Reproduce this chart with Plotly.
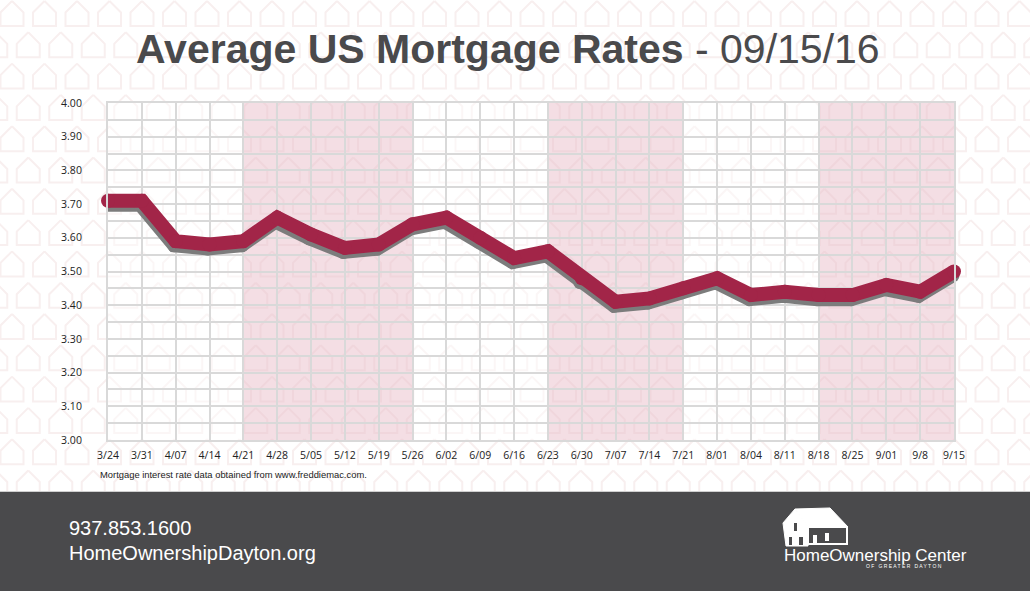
import plotly.graph_objects as go

W, H = 1030, 591

# ---- data ----
dates = ["3/24", "3/31", "4/07", "4/14", "4/21", "4/28", "5/05", "5/12", "5/19",
         "5/26", "6/02", "6/09", "6/16", "6/23", "6/30", "7/07", "7/14", "7/21",
         "8/01", "8/04", "8/11", "8/18", "8/25", "9/01", "9/8", "9/15"]
rates = [3.71, 3.71, 3.59, 3.58, 3.59, 3.66, 3.61, 3.57, 3.58, 3.64, 3.66, 3.60,
         3.54, 3.56, 3.48, 3.41, 3.42, 3.45, 3.48, 3.43, 3.44, 3.43, 3.43, 3.46,
         3.44, 3.50]
y_tick_vals = [3.0, 3.1, 3.2, 3.3, 3.4, 3.5, 3.6, 3.7, 3.8, 3.9, 4.0]
y_tick_text = ["3.00", "3.10", "3.20", "3.30", "3.40", "3.50", "3.60", "3.70",
               "3.80", "3.90", "4.00"]
y_minor_vals = [3.05, 3.15, 3.25, 3.35, 3.45, 3.55, 3.65, 3.75, 3.85, 3.95]
# shaded bands (start label, end label)
bands = [("4/21", "5/26"), ("6/23", "7/21"), ("8/18", "9/15")]

RED = "#a22548"
SHADOW = "#7c7c7c"
GRID = "#d9d9d9"
DARK = "#4a4a4c"


def px(x):
    return x / W


def py(y):
    return 1 - y / H


fig = go.Figure()

# ---- background house pattern (full-figure axes) ----
hx, hy = [], []
row_h, col_w = 31.3, 32.5
r = 0
while r * row_h < 470:
    y0 = r * row_h + 1
    off = 12 if r % 2 == 0 else 12 - col_w / 2
    c = 0
    while off + c * col_w < W + 20:
        cx = off + c * col_w
        hx += [cx, cx + 11.5, cx + 11.5, cx - 11.5, cx - 11.5, cx, None]
        hy += [y0, y0 + 11.5, y0 + 25, y0 + 25, y0 + 11.5, y0, None]
        c += 1
    r += 1
fig.add_trace(go.Scatter(x=hx, y=hy, mode="lines", xaxis="x", yaxis="y",
                         line=dict(color="#f8efef", width=2),
                         hoverinfo="skip", showlegend=False))

# ---- main chart ----
xi = list(range(len(dates)))
fig.add_trace(go.Scatter(
    x=[v - 0.045 for v in xi], y=[v - 0.012 for v in rates],
    mode="lines+markers", xaxis="x2", yaxis="y2",
    line=dict(color=SHADOW, width=14),
    marker=dict(color=SHADOW, size=14, line=dict(width=0)),
    cliponaxis=False, hoverinfo="skip", showlegend=False))
fig.add_trace(go.Scatter(
    x=xi, y=rates, mode="lines+markers", xaxis="x2", yaxis="y2",
    line=dict(color=RED, width=14),
    marker=dict(color=RED, size=14, line=dict(width=0)),
    cliponaxis=False, showlegend=False))

shapes = []
# soften pattern inside plot area
shapes.append(dict(type="rect", xref="x2", yref="y2", x0=0, x1=len(dates) - 1,
                   y0=3.0, y1=4.0, fillcolor="rgba(255,255,255,0.45)",
                   line=dict(width=0), layer="below"))
for a, b in bands:
    shapes.append(dict(type="rect", xref="x2", yref="y2",
                       x0=dates.index(a), x1=dates.index(b), y0=3.0, y1=4.0,
                       fillcolor="rgba(200,90,120,0.2)", line=dict(width=0),
                       layer="below"))

# footer
shapes.append(dict(type="rect", xref="paper", yref="paper",
                   x0=0, x1=1, y0=0, y1=py(492), fillcolor=DARK,
                   line=dict(width=0), layer="above"))
shapes.append(dict(type="line", xref="paper", yref="paper",
                   x0=0, x1=1, y0=py(491.5), y1=py(491.5),
                   line=dict(color="#cfcfcf", width=1), layer="above"))


def path(pts, close=True):
    s = "M " + " L ".join(f"{px(x):.5f},{py(y):.5f}" for x, y in pts)
    return s + (" Z" if close else "")


# logo house
shapes.append(dict(type="path", xref="paper", yref="paper",
                   path=path([(783, 523), (795, 509), (808, 526), (808, 546), (786, 546)]),
                   fillcolor="white", line=dict(color="white", width=1), layer="above"))
shapes.append(dict(type="path", xref="paper", yref="paper",
                   path=path([(795, 509), (830, 508), (848, 527), (808, 527)]),
                   fillcolor="white", line=dict(color="white", width=1), layer="above"))
shapes.append(dict(type="rect", xref="paper", yref="paper",
                   x0=px(808), x1=px(847), y0=py(544), y1=py(527),
                   fillcolor=DARK, line=dict(color="white", width=2), layer="above"))
for (x0, y0, x1, y1, col) in [(789, 537, 792, 545, DARK), (799, 537, 803, 545, DARK),
                              (794, 523, 797, 531, DARK),
                              (813, 535, 817, 543, "white"), (825, 533, 829, 541, "white")]:
    shapes.append(dict(type="rect", xref="paper", yref="paper",
                       x0=px(x0), x1=px(x1), y0=py(y1), y1=py(y0),
                       fillcolor=col, line=dict(width=0), layer="above"))

annotations = [
    dict(text="<b>Average US Mortgage Rates</b> - 09/15/16", x=px(507.5), y=py(49),
         xref="paper", yref="paper", xanchor="center", yanchor="middle",
         showarrow=False, font=dict(family="Liberation Sans, Arial", size=41, color=DARK)),
    dict(text="Mortgage interest rate data obtained from www.freddiemac.com.",
         x=px(98), y=py(474), xref="paper", yref="paper", xanchor="left",
         yanchor="middle", showarrow=False,
         font=dict(family="Liberation Sans, Arial", size=9.4, color="#222222")),
    dict(text="937.853.1600", x=px(67), y=py(528), xref="paper", yref="paper",
         xanchor="left", yanchor="middle", showarrow=False,
         font=dict(family="Liberation Sans, Arial", size=20, color="white")),
    dict(text="HomeOwnershipDayton.org", x=px(67), y=py(553), xref="paper", yref="paper",
         xanchor="left", yanchor="middle", showarrow=False,
         font=dict(family="Liberation Sans, Arial", size=20, color="white")),
    dict(text="HomeOwnership Center", x=px(782), y=py(555), xref="paper", yref="paper",
         xanchor="left", yanchor="middle", showarrow=False,
         font=dict(family="Liberation Sans, Arial", size=17, color="white")),
    dict(text="O F   G R E A T E R   D A Y T O N", x=px(904), y=py(565.5),
         xref="paper", yref="paper", xanchor="center", yanchor="middle",
         showarrow=False, font=dict(family="Liberation Sans, Arial", size=5, color="white")),
]

tickfont = dict(family="Open Sans", size=10.5, color="#222222")

fig.update_layout(
    template="none",
    width=W, height=H,
    margin=dict(l=0, r=0, t=0, b=0, pad=0, autoexpand=False),
    paper_bgcolor="white",
    plot_bgcolor="rgba(0,0,0,0)",
    showlegend=False,
    shapes=shapes,
    annotations=annotations,
    xaxis=dict(domain=[0, 1], range=[0, W], visible=False, fixedrange=True,
               automargin=False),
    yaxis=dict(domain=[0, 1], range=[H, 0], visible=False, fixedrange=True,
               automargin=False),
    xaxis2=dict(domain=[px(108), px(954)], anchor="y2", range=[0, len(dates) - 1],
                tickmode="array", tickvals=xi, ticktext=dates, automargin=False,
                showgrid=True, gridcolor=GRID, gridwidth=2, zeroline=False,
                showline=True, linecolor=GRID, linewidth=2, mirror=True,
                ticks="outside", ticklen=4, tickcolor="rgba(0,0,0,0)",
                tickfont=tickfont, tickangle=0),
    yaxis2=dict(domain=[py(440), py(103)], anchor="x2", range=[3.0, 4.0],
                tickmode="array", tickvals=y_tick_vals, ticktext=y_tick_text,
                automargin=False,
                showgrid=True, gridcolor=GRID, gridwidth=2, zeroline=False,
                showline=True, linecolor=GRID, linewidth=2, mirror=True,
                minor=dict(tickmode="array", tickvals=y_minor_vals, showgrid=True,
                           gridcolor=GRID, gridwidth=2),
                ticks="outside", ticklen=22, tickcolor="rgba(0,0,0,0)",
                tickfont=tickfont),
)

fig.write_html("out.html", config={"displayModeBar": False},
               post_script="document.body.style.margin='0px';")
